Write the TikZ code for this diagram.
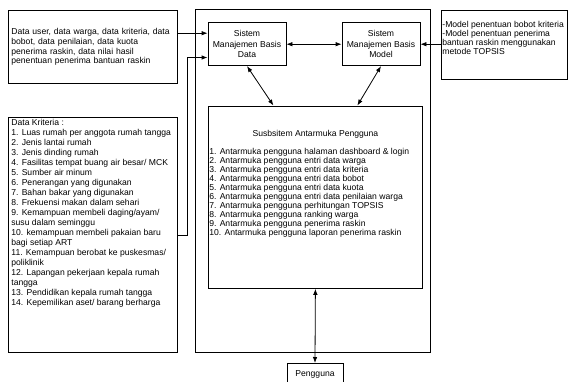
\documentclass[tikz,border=0pt]{standalone}
\usepackage{fontspec}
\setmainfont{Liberation Sans}
\usetikzlibrary{arrows.meta}

% top aligned text block of fixed size
\newcommand{\kotak}[3]{\parbox[t][#2][t]{#1}{\raggedright #3}}

\begin{document}
\begin{tikzpicture}[x=1pt, y=-1pt,
        box/.style={draw, line width=0.8pt, inner sep=0pt, font=\fontsize{8.6}{10}\selectfont},
        arr/.style={-{Latex[length=6pt,width=4.5pt]}, line width=0.8pt},
        dbl/.style={{Latex[length=6pt,width=4.5pt]}-{Latex[length=6pt,width=4.5pt]}, line width=0.8pt}]
        \useasboundingbox (0,0) rectangle (568,381);
        \clip (0,0) rectangle (568,381);

        % System frame
        \draw[line width=0.8pt] (195,9.5) rectangle (430,352);

        % Input boxes
        \node[box, anchor=north west, minimum width=169pt, minimum height=73pt, text width=163pt, align=left,
              font=\fontsize{8.6}{9.8}\selectfont] (datauser) at (8,10)
            {Data user, data warga, data kriteria, data\\ bobot, data penilaian, data kuota\\ penerima raskin, data nilai hasil\\ penentuan penerima bantuan raskin};
        \node[box, anchor=north west, minimum width=169pt] (kriteria) at (8,117)
            {\kotak{163pt}{235pt}{\vspace*{1.7pt}Data Kriteria :\\
             1. Luas rumah per anggota rumah tangga\\
             2. Jenis lantai rumah\\
             3. Jenis dinding rumah\\
             4. Fasilitas tempat buang air besar/ MCK\\
             5. Sumber air minum\\
             6. Penerangan yang digunakan\\
             7. Bahan bakar yang digunakan\\
             8. Frekuensi makan dalam sehari\\
             9. Kemampuan membeli daging/ayam/\\ susu dalam seminggu\\
             10. kemampuan membeli pakaian baru\\ bagi setiap ART\\
             11. Kemampuan berobat ke puskesmas/\\ poliklinik\\
             12. Lapangan pekerjaan kepala rumah\\ tangga\\
             13. Pendidikan kepala rumah tangga\\
             14. Kepemilikan aset/ barang berharga}};
        \node[box, anchor=north west, minimum width=126pt, font=\fontsize{8.6}{8.9}\selectfont] (model) at (441,10)
            {\kotak{124pt}{69pt}{\vspace*{11pt}-Model penentuan bobot kriteria\\ -Model penentuan penerima\\ bantuan raskin menggunakan\\ metode TOPSIS}};

        % Subsystems
        \node[box, minimum width=78pt, minimum height=43pt, align=center, font=\fontsize{8.6}{10.5}\selectfont]
            (smbd) at (247,44.2) {Sistem\\ Manajemen Basis\\ Data};
        \node[box, minimum width=78pt, minimum height=43pt, align=center, font=\fontsize{8.6}{10.5}\selectfont]
            (smbm) at (381,44.2) {Sistem\\ Manajemen Basis\\ Model};
        \node[box, anchor=north west, minimum width=214pt, font=\fontsize{8.6}{9}\selectfont] (sub) at (208,105.5)
            {\kotak{212pt}{182.5pt}{\vspace*{24pt}\centering Susbsitem Antarmuka Pengguna\par
             \vspace{9pt}\raggedright
             1. Antarmuka pengguna halaman dashboard \& login\\
             2. Antarmuka pengguna entri data warga\\
             3. Antarmuka pengguna entri data kriteria\\
             4. Antarmuka pengguna entri data bobot\\
             5. Antarmuka pengguna entri data kuota\\
             6. Antarmuka pengguna entri data penilaian warga\\
             7. Antarmuka pengguna perhitungan TOPSIS\\
             8. Antarmuka pengguna ranking warga\\
             9. Antarmuka pengguna penerima raskin\\
             10. Antarmuka pengguna laporan penerima raskin}};
        \node[box, anchor=north, minimum width=56pt, minimum height=22pt] (pengguna) at (315,363) {Pengguna};

        % Connections
        \coordinate (in1) at ([yshift=11pt]smbd.west);
        \coordinate (in2) at ([yshift=-13.3pt]smbd.west);
        \draw[arr] (datauser.east |- in1) -- (in1);
        \draw[arr] (kriteria.east) -- ++(10,0) |- (in2);
        \draw[dbl] (smbd) -- (smbm);
        \draw[arr] (model.west |- smbm.east) -- (smbm.east);
        \draw[dbl] (smbd.south) -- ([xshift=-42pt]sub.north);
        \draw[dbl] (smbm.south) -- ([xshift=42pt]sub.north);
        \draw[dbl] (sub.south) -- (pengguna.north);
    \end{tikzpicture}
\end{document}
